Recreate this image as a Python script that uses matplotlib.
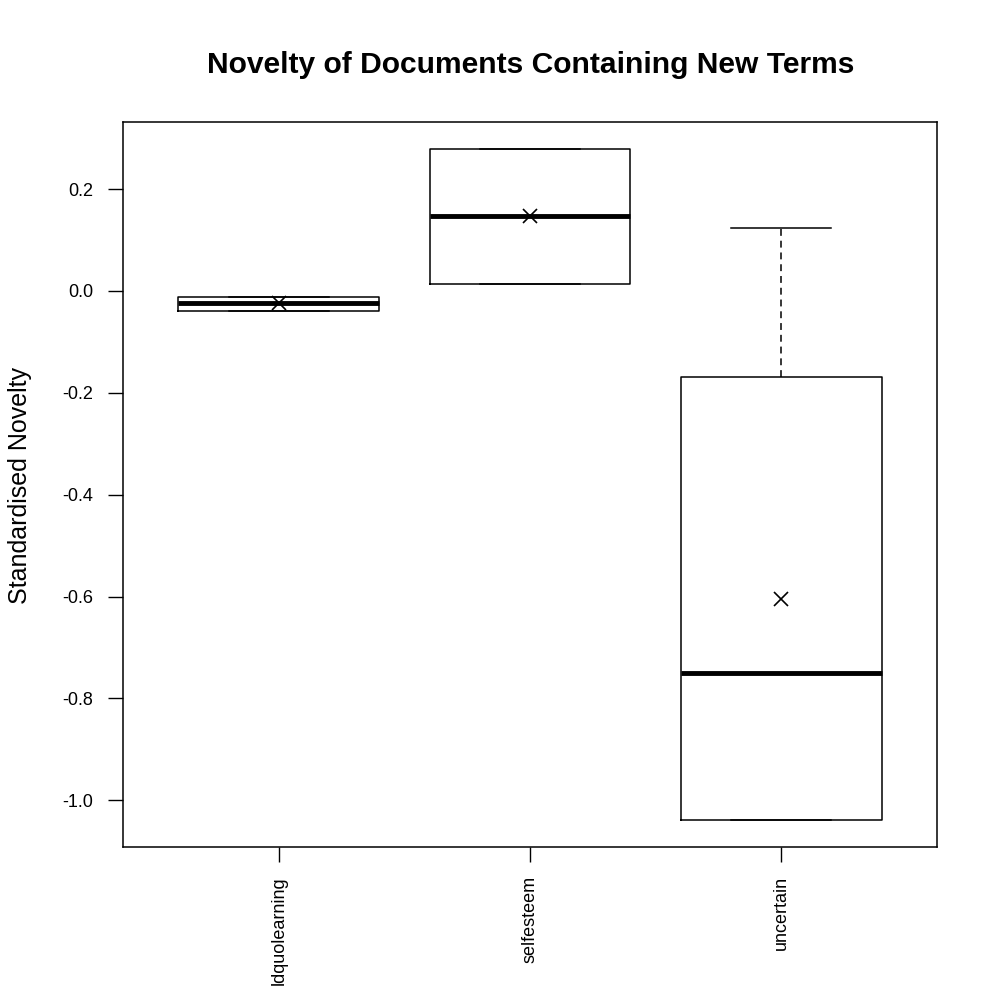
import matplotlib
matplotlib.use("Agg")
import matplotlib.pyplot as plt

plt.rcParams['font.family'] = ['Liberation Sans', 'DejaVu Sans']
plt.rcParams['axes.unicode_minus'] = False

categories = ["ldquolearning", "selfesteem", "uncertain"]
q1 = [-0.039, 0.014, -1.038]
medians = [-0.024, 0.148, -0.750]
q3 = [-0.012, 0.279, -0.169]
whislo = [-0.039, 0.014, -1.038]
whishi = [-0.012, 0.279, 0.123]
means = [-0.024, 0.148, -0.605]
yticks = [-1.0, -0.8, -0.6, -0.4, -0.2, 0.0, 0.2]

fig = plt.figure(figsize=(10, 10), dpi=100)
ax = fig.add_axes([0.123, 0.1535, 0.814, 0.7245])

stats = []
for i, c in enumerate(categories):
    stats.append(dict(label=c, q1=q1[i], med=medians[i], q3=q3[i],
                      whislo=whislo[i], whishi=whishi[i], mean=means[i], fliers=[]))

ax.bxp(stats, positions=[1, 2, 3], widths=0.8, capwidths=0.4, showmeans=True,
       boxprops=dict(color='black', linewidth=1.1),
       whiskerprops=dict(color='black', linewidth=1.1, linestyle=(0, (4.5, 3.2))),
       capprops=dict(color='black', linewidth=1.1),
       medianprops=dict(color='black', linewidth=3.5, solid_capstyle='butt'),
       meanprops=dict(marker='x', markeredgecolor='black', markersize=10, markeredgewidth=1.2))

lo = min(whislo); hi = max(whishi)
pad = 0.04 * (hi - lo)
ax.set_ylim(lo - pad, hi + pad)
ax.set_xlim(0.5 - 0.12, 3.5 + 0.12)
ax.set_yticks(yticks)
ax.set_yticklabels([f"{v:.1f}" for v in yticks], fontsize=13)
ax.set_xticks([1, 2, 3])
ax.set_xticklabels(categories, rotation=90, fontsize=13, va='top')
ax.tick_params(axis='both', length=10.5, width=1, color='black', pad=11)
for s in ax.spines.values():
    s.set_linewidth(1.1)

fig.text(0.020, 0.515, "Standardised Novelty", rotation=90,
         ha='center', va='center', fontsize=18)
fig.text(0.5305, 0.927, "Novelty of Documents Containing New Terms",
         ha='center', va='baseline', fontsize=21.6, fontweight='bold')

fig.savefig("out.png", dpi=100)
